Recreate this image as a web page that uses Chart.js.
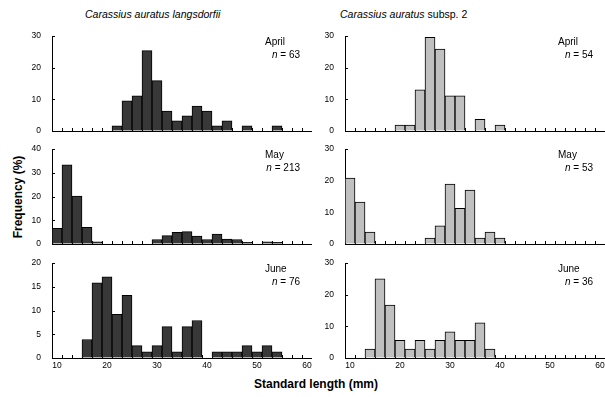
<!DOCTYPE html>
<html>
<head>
<meta charset="utf-8">
<script src="https://cdn.jsdelivr.net/npm/chart.js@4.4.1/dist/chart.umd.min.js"></script>
<style>
  body { margin: 0; background: #fff; width: 605px; height: 397px; position: relative; overflow: hidden;
         font-family: 'Liberation Sans', Arial, sans-serif; color: #000; }
  canvas { position: absolute; }
  .txt { position: absolute; white-space: nowrap; }
  .sp { font-size: 10.5px; top: 8px; }
  .ax { font-weight: bold; font-size: 12px; }
</style>
</head>
<body>
<div class="txt sp" style="left:85px;"><i>Carassius auratus langsdorfii</i></div>
<div class="txt sp" style="left:340px;"><i>Carassius auratus</i> subsp. 2</div>
<div class="txt ax" style="left:18px; top:197px; transform: translate(-50%,-50%) rotate(-90deg);">Frequency (%)</div>
<div class="txt ax" style="left:316px; top:384px; transform: translate(-50%,-50%);">Standard length (mm)</div>

<canvas id="la" width="300" height="127" style="left:12px; top:26px;"></canvas>
<canvas id="ra" width="300" height="127" style="left:305px; top:26px;"></canvas>
<canvas id="lm" width="300" height="127" style="left:12px; top:139px;"></canvas>
<canvas id="rm" width="300" height="127" style="left:305px; top:139px;"></canvas>
<canvas id="lj" width="300" height="127" style="left:12px; top:253px;"></canvas>
<canvas id="rj" width="300" height="127" style="left:305px; top:253px;"></canvas>

<script>
// 2 mm length classes (lower bound of each class)
const BINS = [10, 12, 14, 16, 18, 20, 22, 24, 26, 28, 30, 32, 34, 36, 38, 40, 42, 44, 46, 48, 50, 52, 54, 56, 58];
const X_TICKS = [10, 12, 14, 16, 18, 20, 22, 24, 26, 28, 30, 32, 34, 36, 38, 40, 42, 44, 46, 48, 50, 52, 54, 56, 58, 60];
const X_LABELS = [10, 20, 30, 40, 50, 60];

// frequency (%) per class
const langApril = [0, 0, 0, 0, 0, 0, 1.6, 9.5, 11.1, 25.4, 15.9, 6.3, 3.2, 4.8, 7.9, 6.3, 1.6, 3.2, 0, 1.6, 0, 0, 1.6, 0, 0];
const langMay   = [6.6, 33.3, 20.2, 7.0, 0.9, 0, 0, 0, 0, 0, 1.9, 3.5, 4.9, 5.2, 3.3, 1.9, 4.2, 2.1, 1.9, 0.7, 0, 0.9, 0.7, 0, 0];
const langJune  = [0, 0, 0, 3.9, 15.8, 17.1, 9.2, 13.2, 2.6, 1.3, 2.6, 6.6, 1.3, 6.6, 7.9, 0, 1.3, 1.3, 1.3, 2.6, 1.3, 2.6, 1.3, 0, 0];
const sp2April  = [0, 0, 0, 0, 0, 1.9, 1.9, 13.0, 29.6, 25.9, 11.1, 11.1, 0, 3.7, 0, 1.9, 0, 0, 0, 0, 0, 0, 0, 0, 0];
const sp2May    = [20.8, 13.2, 3.8, 0, 0, 0, 0, 0, 1.9, 5.7, 18.9, 11.3, 17.0, 1.9, 3.8, 1.9, 0, 0, 0, 0, 0, 0, 0, 0, 0];
const sp2June   = [0, 0, 2.8, 25.0, 16.7, 5.6, 2.8, 5.6, 2.8, 5.6, 8.3, 5.6, 5.6, 11.1, 2.8, 0, 0, 0, 0, 0, 0, 0, 0, 0, 0];

const FONT = { family: "'Liberation Sans', Arial, sans-serif", size: 8.5 };

// tick marks pointing into the plot
const innerTicks = {
  id: 'innerTicks',
  beforeDatasetsDraw(chart) {
    const { ctx, chartArea: a, scales: { x, y } } = chart;
    ctx.save();
    ctx.strokeStyle = '#000';
    ctx.lineWidth = 1;
    ctx.beginPath();
    x.ticks.forEach(t => {
      const px = Math.round(x.getPixelForValue(t.value)) + 0.5;
      ctx.moveTo(px, a.bottom);
      ctx.lineTo(px, a.bottom - 3);
    });
    y.ticks.forEach(t => {
      const py = Math.round(y.getPixelForValue(t.value)) + 0.5;
      ctx.moveTo(a.left, py);
      ctx.lineTo(a.left + 3, py);
    });
    ctx.stroke();
    ctx.restore();
  }
};

// month + sample size in the top right corner
const panelLabel = {
  id: 'panelLabel',
  afterDraw(chart, args, opts) {
    const { ctx, chartArea: a, scales: { x } } = chart;
    const p60 = x.getPixelForValue(60);
    ctx.save();
    ctx.fillStyle = '#000';
    ctx.textBaseline = 'middle';
    ctx.font = "10px 'Liberation Sans', Arial, sans-serif";
    ctx.textAlign = 'left';
    ctx.fillText(opts.month, p60 - 37, a.top + 6);
    ctx.textAlign = 'right';
    const rest = ' = ' + opts.n;
    const w = ctx.measureText(rest).width;
    ctx.fillText(rest, p60 - 2, a.top + 19);
    ctx.font = "italic 10px 'Liberation Sans', Arial, sans-serif";
    ctx.fillText('n', p60 - 2 - w, a.top + 19);
    ctx.restore();
  }
};

function makePanel(id, values, yMax, yStep, fill, month, n, showX) {
  const ctx = document.getElementById(id).getContext('2d');
  return new Chart(ctx, {
    type: 'bar',
    data: {
      datasets: [{
        data: BINS.map((b, i) => ({ x: b + 1, y: values[i] })),
        backgroundColor: fill,
        borderColor: '#000',
        borderWidth: 1,
        barPercentage: 1,
        categoryPercentage: 1,
      }]
    },
    options: {
      responsive: false,
      animation: false,
      layout: { padding: { top: 10, right: 0, bottom: 0, left: 0 } },
      plugins: {
        legend: { display: false },
        tooltip: { enabled: false },
        panelLabel: { month, n }
      },
      scales: {
        x: {
          type: 'linear', min: 10, max: 62, offset: false,
          grid: { drawOnChartArea: false, drawTicks: false, offset: false },
          border: { display: true, color: '#000', width: 1 },
          afterBuildTicks: s => { s.ticks = X_TICKS.map(v => ({ value: v })); },
          afterFit: s => { s.height = 22; s.paddingLeft = 0; s.paddingRight = 0; },
          ticks: {
            autoSkip: false, maxRotation: 0, padding: 3, labelOffset: 5,
            color: showX ? '#000' : 'rgba(0,0,0,0)', font: FONT,
            callback: v => X_LABELS.includes(v) ? String(v) : ''
          }
        },
        y: {
          min: 0, max: yMax,
          grid: { drawOnChartArea: false, drawTicks: false },
          border: { display: true, color: '#000', width: 1 },
          afterFit: s => { s.width = 40; s.paddingTop = 0; s.paddingBottom = 0; },
          ticks: { stepSize: yStep, padding: 11, color: '#000', font: FONT }
        }
      }
    },
    plugins: [innerTicks, panelLabel]
  });
}

const DARK = '#383838';
const LIGHT = '#c0c0c0';
makePanel('la', langApril, 30, 10, DARK, 'April', 63, false);
makePanel('lm', langMay, 40, 10, DARK, 'May', 213, false);
makePanel('lj', langJune, 20, 5, DARK, 'June', 76, true);
makePanel('ra', sp2April, 30, 10, LIGHT, 'April', 54, false);
makePanel('rm', sp2May, 30, 10, LIGHT, 'May', 53, false);
makePanel('rj', sp2June, 30, 10, LIGHT, 'June', 36, true);
</script>
</body>
</html>
